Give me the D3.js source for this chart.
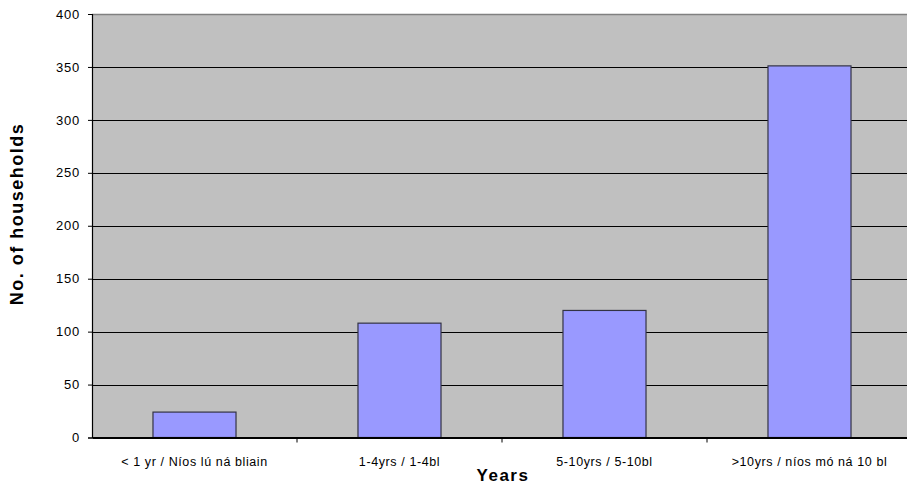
<!DOCTYPE html>
<html>
<head>
<meta charset="utf-8">
<script src="https://cdn.jsdelivr.net/npm/d3@7"></script>
<style>
body { margin: 0; background: #fff; }
text { font-family: "Liberation Sans", Arial, sans-serif; }
</style>
</head>
<body>
<div id="chart"></div>
<script>
var categories = ["< 1 yr / Níos lú ná bliain", "1-4yrs / 1-4bl", "5-10yrs / 5-10bl", ">10yrs / níos mó ná 10 bl"];
var values = [24, 108, 120, 351];
var y_ticks = [0, 50, 100, 150, 200, 250, 300, 350, 400];

var width = 907, height = 488;
var plot_left = 92, plot_top = 14, plot_right = 912, plot_bottom = 437.5;

var svg = d3.select("#chart").append("svg")
    .attr("width", width)
    .attr("height", height);

var x = d3.scaleBand().domain(categories).range([plot_left, plot_right]).paddingInner(0).paddingOuter(0);
var y = d3.scaleLinear().domain([0, 400]).range([plot_bottom, plot_top]);

// plot background
svg.append("rect")
    .attr("x", plot_left).attr("y", plot_top)
    .attr("width", plot_right - plot_left).attr("height", plot_bottom - plot_top)
    .attr("fill", "#c0c0c0");

svg.append("line")
    .attr("x1", plot_left).attr("x2", plot_right)
    .attr("y1", plot_top + 0.5).attr("y2", plot_top + 0.5)
    .attr("stroke", "#808080").attr("stroke-width", 1.5);

// gridlines
svg.selectAll(".grid").data(y_ticks.filter(d => d > 0 && d < 400)).enter()
    .append("line")
    .attr("x1", plot_left).attr("x2", plot_right)
    .attr("y1", d => Math.round(y(d)) + 0.5).attr("y2", d => Math.round(y(d)) + 0.5)
    .attr("stroke", "#000").attr("stroke-width", 1);

// bars
var bw = x.bandwidth() * 0.405;
svg.selectAll(".bar").data(values).enter()
    .append("rect")
    .attr("x", (d, i) => x(categories[i]) + x.bandwidth() / 2 - bw / 2)
    .attr("y", d => y(d))
    .attr("width", bw)
    .attr("height", d => plot_bottom - y(d))
    .attr("fill", "#9999ff")
    .attr("stroke", "#333344")
    .attr("stroke-width", 1.2);

// y axis
var yAxis = d3.axisLeft(y).tickValues(y_ticks).tickSize(4).tickPadding(8);
var gy = svg.append("g").attr("transform", "translate(" + plot_left + ",0)").call(yAxis);
gy.select(".domain").attr("stroke", "#000").attr("stroke-width", 1.2);
gy.selectAll("text").style("font-size", "13px").style("letter-spacing", "0.8px").attr("fill", "#000");

// x axis
var xAxis = d3.axisBottom(x).tickSize(0).tickPadding(20);
var gx = svg.append("g").attr("transform", "translate(0," + plot_bottom + ")").call(xAxis);
gx.select(".domain").attr("stroke", "#000").attr("stroke-width", 2);
gx.selectAll("text").style("font-size", "12.5px").style("letter-spacing", "0.6px").attr("fill", "#000");

// category separators
svg.selectAll(".sep").data(categories.slice(1)).enter()
    .append("line")
    .attr("x1", d => x(d)).attr("x2", d => x(d))
    .attr("y1", plot_bottom).attr("y2", plot_bottom + 5)
    .attr("stroke", "#000").attr("stroke-width", 1);

// axis titles
svg.append("text")
    .attr("x", 503).attr("y", 481)
    .attr("text-anchor", "middle")
    .style("font-size", "17px").style("font-weight", "bold").style("letter-spacing", "1.5px")
    .text("Years");

svg.append("text")
    .attr("transform", "translate(23,214) rotate(-90)")
    .attr("text-anchor", "middle")
    .style("font-size", "18px").style("font-weight", "bold").style("letter-spacing", "1.5px")
    .text("No. of households");
</script>
</body>
</html>
